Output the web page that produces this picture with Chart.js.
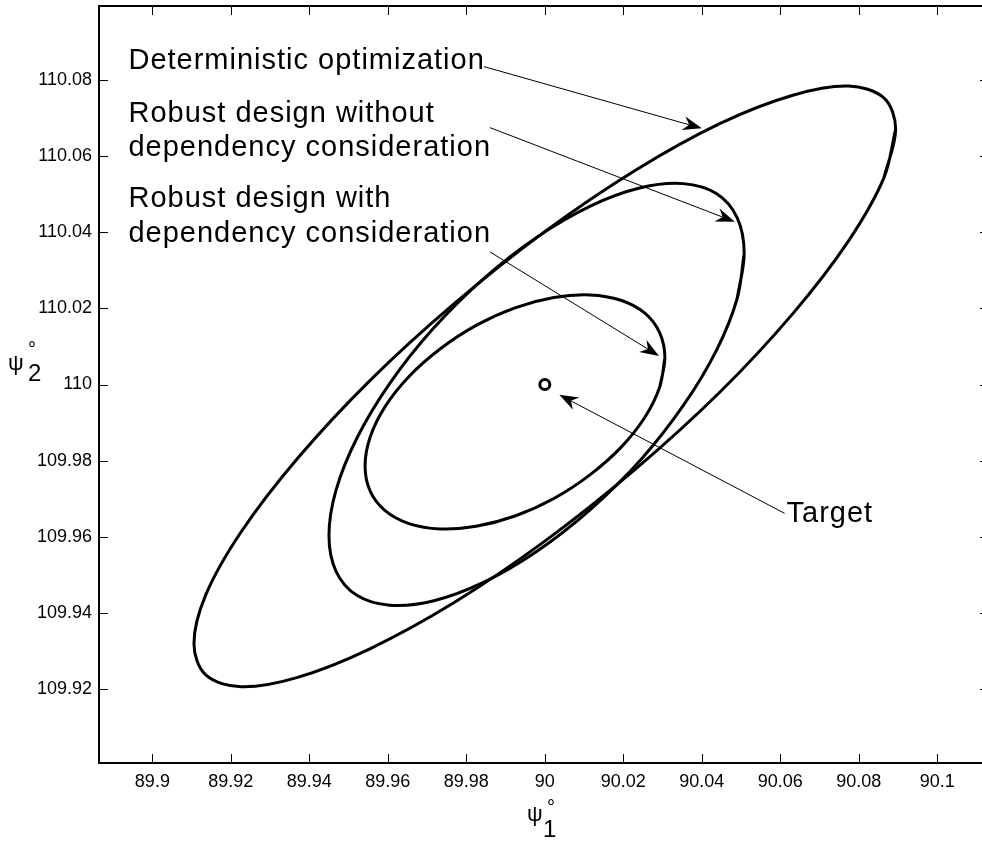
<!DOCTYPE html>
<html>
<head>
<meta charset="utf-8">
<script src="https://cdn.jsdelivr.net/npm/chart.js@4/dist/chart.umd.min.js"></script>
<style>
  html, body { margin: 0; padding: 0; background: #fff; overflow: hidden; }
</style>
</head>
<body>
<canvas id="ellipseChart" width="982" height="842"></canvas>
<script>
const xTicks = [89.9, 89.92, 89.94, 89.96, 89.98, 90, 90.02, 90.04, 90.06, 90.08, 90.1];
const xTickLabels = ["89.9", "89.92", "89.94", "89.96", "89.98", "90", "90.02", "90.04", "90.06", "90.08", "90.1"];
const yTicks = [109.92, 109.94, 109.96, 109.98, 110, 110.02, 110.04, 110.06, 110.08];
const yTickLabels = ["109.92", "109.94", "109.96", "109.98", "110", "110.02", "110.04", "110.06", "110.08"];

// Deterministic optimization
const detX = [90.0894, 90.0864, 90.0774, 90.0632, 90.0447, 90.0231, 90.0000, 89.9769, 89.9553, 89.9368, 89.9226, 89.9136,
              89.9106, 89.9136, 89.9226, 89.9368, 89.9553, 89.9769, 90.0000, 90.0231, 90.0447, 90.0632, 90.0774, 90.0864];
const detY = [110.0670, 110.0542, 110.0377, 110.0186, 109.9981, 109.9778, 109.9589, 109.9428, 109.9306, 109.9231, 109.9207, 109.9238,
              109.9320, 109.9448, 109.9613, 109.9804, 110.0009, 110.0212, 110.0401, 110.0562, 110.0685, 110.0759, 110.0783, 110.0752];

// Robust design without dependency consideration
const noDepX = [90.0508, 90.0490, 90.0437, 90.0353, 90.0244, 90.0116, 89.9979, 89.9842, 89.9715, 89.9605, 89.9521, 89.9468,
                89.9450, 89.9468, 89.9521, 89.9605, 89.9715, 89.9842, 89.9979, 90.0116, 90.0244, 90.0353, 90.0437, 90.0490];
const noDepY = [110.0344, 110.0225, 110.0089, 109.9945, 109.9802, 109.9672, 109.9562, 109.9480, 109.9432, 109.9421, 109.9447, 109.9510,
                109.9604, 109.9723, 109.9859, 110.0003, 110.0146, 110.0276, 110.0386, 110.0468, 110.0516, 110.0527, 110.0501, 110.0438];

// Robust design with dependency consideration
const depX = [90.0306, 90.0293, 90.0255, 90.0194, 90.0115, 90.0023, 89.9924, 89.9825, 89.9733, 89.9654, 89.9593, 89.9555,
              89.9542, 89.9555, 89.9593, 89.9654, 89.9733, 89.9825, 89.9924, 90.0023, 90.0115, 90.0194, 90.0255, 90.0293];
const depY = [110.0070, 109.9994, 109.9914, 109.9835, 109.9763, 109.9701, 109.9655, 109.9628, 109.9621, 109.9635, 109.9669, 109.9720,
              109.9786, 109.9862, 109.9942, 110.0021, 110.0093, 110.0155, 110.0201, 110.0228, 110.0235, 110.0221, 110.0187, 110.0135];

const targetX = [90];
const targetY = [110];

// annotation text (data coords of first baseline) and arrows (data coords)
const notes = [
  { lines: ["Deterministic optimization"], x: 89.8939, y: 110.0828 },
  { lines: ["Robust design without", "dependency consideration"], x: 89.8939, y: 110.0689 },
  { lines: ["Robust design with", "dependency consideration"], x: 89.8939, y: 110.0465 },
  { lines: ["Target"], x: 90.0616, y: 109.9638 },
];
const arrows = [
  { from: [89.9845, 110.0834], to: [90.0400, 110.0672] },
  { from: [89.9860, 110.0674], to: [90.0484, 110.0427] },
  { from: [89.9860, 110.0348], to: [90.0291, 110.0075] },
  { from: [90.0611, 109.9662], to: [90.0037, 109.9973] },
];

const FONT = '"Liberation Sans", Arial, sans-serif';
// the right edge of the axes box sits just past the edge of the picture
const RIGHT_OVERHANG = 7;

function toPoints(xs, ys) {
  return xs.map((x, i) => ({ x: x, y: ys[i] }));
}

// repeat the first two points so the closing join is smooth
function closedLoop(xs, ys) {
  const pts = toPoints(xs, ys);
  return pts.concat([pts[0], pts[1]]);
}

function drawArrow(ctx, x1, y1, x2, y2) {
  const ang = Math.atan2(y2 - y1, x2 - x1);
  const c = Math.cos(ang), s = Math.sin(ang);
  const len = 19, half = 7, notch = 13;
  ctx.lineWidth = 1;
  ctx.beginPath();
  ctx.moveTo(x1, y1);
  ctx.lineTo(x2 - notch * c, y2 - notch * s);
  ctx.stroke();
  ctx.beginPath();
  ctx.moveTo(x2, y2);
  ctx.lineTo(x2 - len * c + half * s, y2 - len * s - half * c);
  ctx.lineTo(x2 - notch * c, y2 - notch * s);
  ctx.lineTo(x2 - len * c - half * s, y2 - len * s + half * c);
  ctx.closePath();
  ctx.fill();
}

const framePlugin = {
  id: "frame",
  afterDraw(chart) {
    const { ctx, chartArea: a } = chart;
    const xs = chart.scales.x, ys = chart.scales.y;
    const boxRight = a.right + RIGHT_OVERHANG;
    ctx.save();
    ctx.strokeStyle = "#000";
    ctx.fillStyle = "#000";

    // inward tick marks on all four sides
    ctx.lineWidth = 1;
    ctx.beginPath();
    xTicks.forEach((v) => {
      const px = Math.round(xs.getPixelForValue(v)) + 0.5;
      ctx.moveTo(px, a.bottom); ctx.lineTo(px, a.bottom - 9);
      ctx.moveTo(px, a.top); ctx.lineTo(px, a.top + 9);
    });
    yTicks.forEach((v) => {
      const py = Math.round(ys.getPixelForValue(v)) + 0.5;
      ctx.moveTo(a.left, py); ctx.lineTo(a.left + 9, py);
      ctx.moveTo(boxRight, py); ctx.lineTo(boxRight - 9, py);
    });
    ctx.stroke();

    ctx.lineWidth = 2;
    ctx.strokeRect(a.left, a.top, boxRight - a.left, a.bottom - a.top);

    // annotations
    ctx.font = "29px " + FONT;
    if ("letterSpacing" in ctx) ctx.letterSpacing = "1px";
    ctx.textAlign = "left";
    ctx.textBaseline = "alphabetic";
    notes.forEach((n) => {
      const px = xs.getPixelForValue(n.x);
      const py = ys.getPixelForValue(n.y);
      n.lines.forEach((t, i) => ctx.fillText(t, px, py + i * 34.6));
    });
    if ("letterSpacing" in ctx) ctx.letterSpacing = "0px";
    arrows.forEach((ar) => {
      drawArrow(ctx,
        xs.getPixelForValue(ar.from[0]), ys.getPixelForValue(ar.from[1]),
        xs.getPixelForValue(ar.to[0]), ys.getPixelForValue(ar.to[1]));
    });

    // axis titles: psi with subscript and degree sign
    ctx.font = "22px " + FONT;
    ctx.fillText("\u03C8", 527, 821);
    ctx.fillText("\u03C8", 8, 370);
    ctx.font = "24px " + FONT;
    ctx.fillText("1", 543, 837);
    ctx.fillText("2", 28, 381);
    ctx.font = "20px " + FONT;
    ctx.fillText("\u00B0", 547, 814);
    ctx.fillText("\u00B0", 28, 356);

    ctx.restore();
  },
};

const ellipseStyle = {
  showLine: true,
  borderColor: "#000",
  borderWidth: 3,
  pointRadius: 0,
  pointHoverRadius: 0,
  tension: 0.34,
  fill: false,
};

const ctx = document.getElementById("ellipseChart").getContext("2d");
const ellipseChart = new Chart(ctx, {
  type: "scatter",
  data: {
    datasets: [
      Object.assign({ label: "Deterministic optimization", data: closedLoop(detX, detY) }, ellipseStyle),
      Object.assign({ label: "Robust design without dependency consideration", data: closedLoop(noDepX, noDepY) }, ellipseStyle),
      Object.assign({ label: "Robust design with dependency consideration", data: closedLoop(depX, depY) }, ellipseStyle),
      {
        label: "Target",
        data: toPoints(targetX, targetY),
        pointRadius: 5,
        pointBorderWidth: 3,
        pointBorderColor: "#000",
        pointBackgroundColor: "#fff",
        showLine: false,
      },
    ],
  },
  options: {
    responsive: false,
    animation: false,
    events: [],
    layout: { autoPadding: false, padding: { top: 6, right: 0, left: 0, bottom: 0 } },
    plugins: {
      legend: { display: false },
      tooltip: { enabled: false },
    },
    scales: {
      x: {
        type: "linear",
        min: 89.8864,
        max: 90.1114,
        grid: { display: false, drawTicks: false },
        border: { display: false },
        afterBuildTicks: (s) => { s.ticks = xTicks.map((v) => ({ value: v })); },
        ticks: {
          autoSkip: false,
          maxRotation: 0,
          padding: 8,
          color: "#000",
          font: { family: FONT, size: 18 },
          callback: (v, i) => xTickLabels[i],
        },
        afterFit: (s) => { s.height = 79; s.paddingLeft = 0; s.paddingRight = 0; },
      },
      y: {
        type: "linear",
        min: 109.9007,
        max: 110.0993,
        grid: { display: false, drawTicks: false },
        border: { display: false },
        afterBuildTicks: (s) => { s.ticks = yTicks.map((v) => ({ value: v })); },
        ticks: {
          autoSkip: false,
          padding: 7,
          color: "#000",
          font: { family: FONT, size: 18 },
          callback: (v, i) => yTickLabels[i],
        },
        afterFit: (s) => { s.width = 99; s.paddingTop = 0; s.paddingBottom = 0; },
      },
    },
  },
  plugins: [framePlugin],
});
</script>
</body>
</html>
